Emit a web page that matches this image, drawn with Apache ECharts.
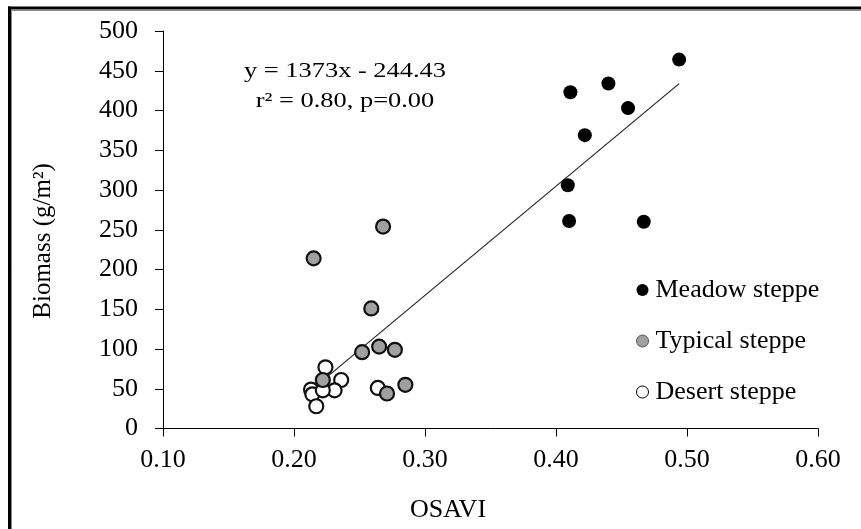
<!DOCTYPE html>
<html>
<head>
<meta charset="utf-8">
<script src="https://cdn.jsdelivr.net/npm/echarts@6/dist/echarts.min.js"></script>
<style>html,body{margin:0;padding:0;background:#fff}#c{width:861px;height:529px}</style>
</head>
<body>
<div id="c"></div>
<script>
// Data
const meadowX = [0.494, 0.440, 0.411, 0.455, 0.422, 0.409, 0.410, 0.467];
const meadowY = [464, 434, 423, 403, 369, 306, 261, 260];
const typicalX = [0.268, 0.215, 0.259, 0.252, 0.265, 0.277, 0.285, 0.271, 0.222];
const typicalY = [254, 214, 151, 96, 103, 99, 55, 44, 61];
const desertX = [0.224, 0.236, 0.231, 0.213, 0.214, 0.222, 0.217, 0.264];
const desertY = [77, 61, 48, 49, 43, 48, 28, 51];
const seriesNames = ['Meadow steppe', 'Typical steppe', 'Desert steppe'];
const fitSlope = 1373;
const fitIntercept = -244.43;
const fitRange = [0.226, 0.494];
const eqLines = ['y = 1373x - 244.43', 'r\u00B2 = 0.80, p=0.00'];
const xAxisName = 'OSAVI';
const yAxisName = 'Biomass (g/m\u00B2)';
const xTicks = [0.1, 0.6, 0.1]; // min, max, interval
const yTicks = [0, 500, 50];

const zip = (a, b) => a.map((v, i) => [v, b[i]]);
const fitData = fitRange.map(x => [x, fitSlope * x + fitIntercept]);
const FONT = '"Liberation Serif", "Times New Roman", serif';

const chart = echarts.init(document.getElementById('c'), null, {renderer: 'canvas'});
chart.setOption({
  animation: false,
  backgroundColor: '#fff',
  textStyle: {fontFamily: FONT, color: '#000'},
  grid: {left: 163, right: 43, top: 31, bottom: 100.5, containLabel: false},
  xAxis: {
    type: 'value', min: xTicks[0], max: xTicks[1], interval: xTicks[2],
    axisLine: {lineStyle: {color: '#000', width: 1}},
    axisTick: {show: true, length: 8, lineStyle: {color: '#000'}},
    axisLabel: {fontFamily: FONT, fontSize: 26, color: '#000', margin: 19,
      formatter: v => v.toFixed(2)},
    splitLine: {show: false}
  },
  yAxis: {
    type: 'value', min: yTicks[0], max: yTicks[1], interval: yTicks[2],
    axisLine: {show: true, lineStyle: {color: '#000', width: 1}},
    axisTick: {show: true, length: 8, lineStyle: {color: '#000'}},
    axisLabel: {fontFamily: FONT, fontSize: 26, color: '#000', margin: 25},
    splitLine: {show: false}
  },
  legend: {
    orient: 'vertical', left: 631, top: 272,
    itemWidth: 12, itemHeight: 12, itemGap: 25,
    icon: 'circle',
    textStyle: {fontFamily: FONT, fontSize: 26, color: '#000', lineHeight: 26, padding: [0, 0, 0, 2]},
    data: [
      {name: seriesNames[0], itemStyle: {color: '#000', borderColor: '#000', borderWidth: 0}},
      {name: seriesNames[1], itemStyle: {color: '#a0a0a0', borderColor: '#555', borderWidth: 1}},
      {name: seriesNames[2], itemStyle: {color: '#fff', borderColor: '#000', borderWidth: 1}}
    ]
  },
  series: [
    {
      type: 'line', data: fitData, symbol: 'none', silent: true, z: 1,
      lineStyle: {color: '#222', width: 1.2}
    },
    {
      name: seriesNames[2], type: 'scatter', data: zip(desertX, desertY), symbolSize: 14, z: 2,
      itemStyle: {color: '#fff', borderColor: '#111', borderWidth: 2.2, opacity: 1}
    },
    {
      name: seriesNames[1], type: 'scatter', data: zip(typicalX, typicalY), symbolSize: 14, z: 3,
      itemStyle: {color: '#a0a0a0', borderColor: '#111', borderWidth: 2.2, opacity: 1}
    },
    {
      name: seriesNames[0], type: 'scatter', data: zip(meadowX, meadowY), symbolSize: 14, z: 4,
      itemStyle: {color: '#000', borderColor: '#000', borderWidth: 0, opacity: 1}
    }
  ],
  graphic: [
    {type: 'text', x: 345, y: 71, scaleX: 1.2, originX: 0, originY: 0,
      style: {text: eqLines[0], fontFamily: FONT, fontSize: 22, fill: '#000', align: 'center', verticalAlign: 'middle'}},
    {type: 'text', x: 345, y: 101, scaleX: 1.2, originX: 0, originY: 0,
      style: {text: eqLines[1], fontFamily: FONT, fontSize: 22, fill: '#000', align: 'center', verticalAlign: 'middle'}},
    {type: 'text', x: 448, y: 510,
      style: {text: xAxisName, fontFamily: FONT, fontSize: 26, fill: '#000', align: 'center', verticalAlign: 'middle'}},
    {type: 'text', x: 43, y: 241, rotation: Math.PI / 2,
      style: {text: yAxisName, fontFamily: FONT, fontSize: 25, fill: '#000', align: 'center', verticalAlign: 'middle'}},
    {type: 'line', shape: {x1: 8, y1: 8, x2: 861, y2: 8}, style: {stroke: '#000', lineWidth: 3}},
    {type: 'line', shape: {x1: 11, y1: 10.5, x2: 861, y2: 10.5}, style: {stroke: '#888', lineWidth: 1}},
    {type: 'line', shape: {x1: 9.5, y1: 6.5, x2: 9.5, y2: 529}, style: {stroke: '#000', lineWidth: 3}},
    {type: 'line', shape: {x1: 11.5, y1: 10, x2: 11.5, y2: 529}, style: {stroke: '#888', lineWidth: 1}}
  ]
});
</script>
</body>
</html>
